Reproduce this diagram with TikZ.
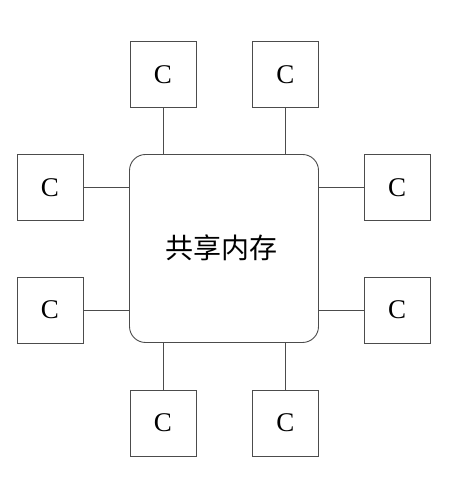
\documentclass[tikz,border=0pt]{standalone}
\usepackage{fontspec}
\setmainfont{Liberation Serif}
\newfontfamily\cjk{Noto Sans CJK SC}
\begin{document}
\begin{tikzpicture}[x=1pt,y=1pt,
  cbox/.style={draw=black!70, line width=0.9pt, minimum width=66pt, minimum height=66pt, inner sep=0pt, font=\fontsize{27}{27}\selectfont},
  mem/.style={draw=black!70, line width=0.9pt, rounded corners=16pt, minimum width=189pt, minimum height=188pt, inner sep=0pt, font=\cjk\fontsize{28}{28}\selectfont},
  link/.style={draw=black!70, line width=0.9pt}]
\useasboundingbox (0,0) rectangle (456,484);
\node[mem] (m) at (224,235.5) {};
\node[font=\cjk\fontsize{28}{28}\selectfont, inner sep=0pt] (mt) at (221.5,236.5) {共享内存};
\node[cbox] (t1) at (163,409.5) {C};
\node[cbox] (t2) at (285.3,409.5) {C};
\node[cbox] (l1) at (50,296.5) {C};
\node[cbox] (l2) at (50,174) {C};
\node[cbox] (r1) at (397,296.5) {C};
\node[cbox] (r2) at (397,174) {C};
\node[cbox] (b1) at (163,61) {C};
\node[cbox] (b2) at (285.3,61) {C};
\draw[link] (t1.south) -- (t1.south |- m.north);
\draw[link] (t2.south) -- (t2.south |- m.north);
\draw[link] (b1.north) -- (b1.north |- m.south);
\draw[link] (b2.north) -- (b2.north |- m.south);
\draw[link] (l1.east) -- (l1.east -| m.west);
\draw[link] (l2.east) -- (l2.east -| m.west);
\draw[link] (r1.west) -- (r1.west -| m.east);
\draw[link] (r2.west) -- (r2.west -| m.east);
\end{tikzpicture}
\end{document}
